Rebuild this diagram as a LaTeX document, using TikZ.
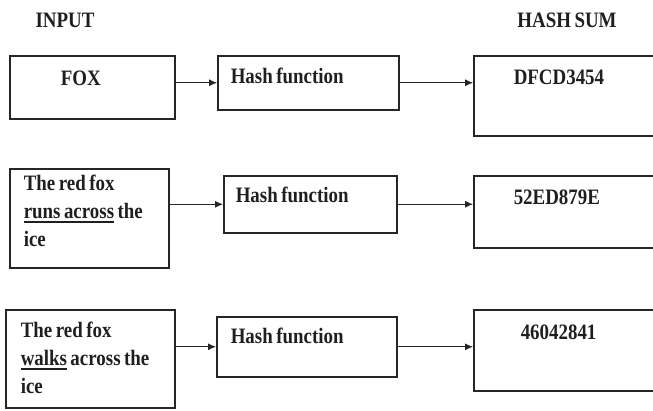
\documentclass[tikz,border=0pt]{standalone}
\usepackage{fontspec}
\setmainfont{Liberation Serif}[FakeStretch=0.86]
\usetikzlibrary{arrows.meta}

% underline with a heavier rule
\newcommand\thickul[1]{\leavevmode\setbox0\hbox{#1}\rlap{\rule[-4pt]{\wd0}{1.6pt}}\box0\relax}
% narrower word spaces
\newcommand\tightsp{\spaceskip=3.5pt plus 1pt\relax}

\begin{document}
\begin{tikzpicture}[
    x=1pt, y=-1pt,
    every node/.style={font=\fontsize{22}{28}\selectfont\bfseries, text=black!88,
                       execute at begin node=\tightsp},
    head/.style={inner sep=0pt},
    box/.style={draw=black!85, line width=1.5pt, anchor=north west,
                align=left, inner ysep=0pt},
    arr/.style={-{Latex[length=8pt,width=7pt]}, line width=0.9pt, black!85}
]
\useasboundingbox (0,0) rectangle (653,410);
\clip (0,0) rectangle (653,410);

% column titles
\node[head] (hin) at (65,20) {INPUT};
\node[head] (hsum) at (567,20) {HASH SUM};

% row 1
\node[box, inner xsep=51pt, text width=63pt, text height=29.5pt, text depth=33.5pt] (in1) at (9,55) {FOX};
\node[box, inner xsep=13pt, text width=155pt, text height=28pt, text depth=26pt] (h1) at (217,55) {Hash function};
\node[box, inner xsep=40pt, text width=147pt, text height=29pt, text depth=51pt] (s1) at (473,55) {DFCD3454};

% row 2
\node[box, inner xsep=14pt, text width=131pt, text height=22pt, text depth=77pt] (in2) at (9,168)
    {The red fox\\\thickul{runs across} the\\ice};
\node[box, inner xsep=12pt, text width=149pt, text height=27pt, text depth=30pt] (h2) at (223,175) {Hash function};
\node[box, inner xsep=40pt, text width=147pt, text height=29pt, text depth=43pt] (s2) at (473,175) {52ED879E};

% row 3
\node[box, inner xsep=15pt, text width=139pt, text height=28pt, text depth=70pt] (in3) at (5,309)
    {The red fox\\\thickul{walks} across the\\ice};
\node[box, inner xsep=14pt, text width=152pt, text height=27pt, text depth=33pt] (h3) at (216,316) {Hash function};
\node[box, inner xsep=47pt, text width=133pt, text height=30pt, text depth=51pt] (s3) at (473,309) {46042841};

\draw[arr] (in1.east |- h1.west) -- (h1.west);
\draw[arr] (h1.east) -- (s1.west |- h1.east);
\draw[arr] (in2.east |- h2.west) -- (h2.west);
\draw[arr] (h2.east) -- (s2.west |- h2.east);
\draw[arr] (in3.east |- h3.west) -- (h3.west);
\draw[arr] (h3.east) -- (s3.west |- h3.east);
\end{tikzpicture}
\end{document}
